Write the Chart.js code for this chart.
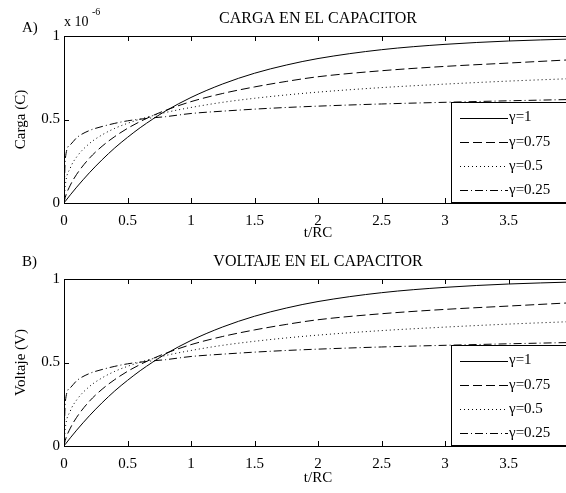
<!DOCTYPE html>
<html>
<head>
<meta charset="utf-8">
<script src="https://cdn.jsdelivr.net/npm/chart.js@4.4.1/dist/chart.umd.min.js"></script>
<style>
  html, body { margin:0; padding:0; background:#fff; overflow:hidden; width:566px; height:493px; }
  canvas { position:absolute; left:0; }
</style>
</head>
<body>
<canvas id="chartCarga" width="600" height="246" style="top:0"></canvas>
<canvas id="chartVoltaje" width="600" height="250" style="top:243px"></canvas>
<script>
// t/RC sample points
const tValues  = [0, 0.01, 0.05, 0.1, 0.2, 0.3, 0.4, 0.5, 0.6, 0.7, 0.8, 1, 1.25, 1.5, 1.75, 2, 2.5, 3, 3.5, 4];
// curves (same shape in both panels; charge in units of 1e-6 C, voltage in V)
const gamma1   = [0, 0.010, 0.049, 0.095, 0.181, 0.259, 0.330, 0.393, 0.451, 0.503, 0.551, 0.632, 0.713, 0.777, 0.826, 0.865, 0.918, 0.950, 0.970, 0.982];
const gamma075 = [0, 0.034, 0.107, 0.172, 0.268, 0.340, 0.398, 0.447, 0.488, 0.524, 0.555, 0.607, 0.656, 0.695, 0.728, 0.756, 0.792, 0.818, 0.838, 0.858];
const gamma05  = [0, 0.104, 0.210, 0.276, 0.356, 0.408, 0.447, 0.477, 0.502, 0.523, 0.542, 0.572, 0.603, 0.627, 0.647, 0.664, 0.691, 0.712, 0.730, 0.745];
const gamma025 = [0, 0.263, 0.349, 0.391, 0.434, 0.458, 0.477, 0.492, 0.502, 0.510, 0.517, 0.536, 0.550, 0.562, 0.572, 0.580, 0.593, 0.603, 0.612, 0.620];
const seriesLabels = ['γ=1', 'γ=0.75', 'γ=0.5', 'γ=0.25'];
const xTickStep = 0.5;
const yTickStep = 0.5;

const serif = '"Liberation Serif", "Times New Roman", serif';
const dashes = [[], [9, 4], [1, 3], [8, 3, 1, 3]];

// MATLAB-like decorations: inward ticks, top frame line, boxed legend, panel letter, title
const panelDeco = {
  id: 'panelDeco',
  afterDraw(chart, args, o) {
    const { ctx, chartArea: a, scales: { x, y } } = chart;
    ctx.save();
    ctx.strokeStyle = '#000';
    ctx.lineWidth = 1;
    ctx.beginPath();
    ctx.moveTo(a.left, a.top + 0.5); ctx.lineTo(a.right, a.top + 0.5);
    x.ticks.forEach(t => {
      const px = Math.round(x.getPixelForValue(t.value)) + 0.5;
      ctx.moveTo(px, a.bottom); ctx.lineTo(px, a.bottom - 5);
      ctx.moveTo(px, a.top); ctx.lineTo(px, a.top + 5);
    });
    y.ticks.forEach(t => {
      const py = Math.round(y.getPixelForValue(t.value)) + 0.5;
      ctx.moveTo(a.left, py); ctx.lineTo(a.left + 5, py);
    });
    ctx.stroke();

    // legend box
    const bx = a.left + 387, by = a.bottom - 101;
    ctx.fillStyle = '#fff';
    ctx.fillRect(bx, by, chart.width - bx, 100);
    ctx.strokeRect(bx + 0.5, by + 0.5, chart.width, 100);
    ctx.font = '15px ' + serif;
    ctx.fillStyle = '#000';
    ctx.textBaseline = 'middle';
    chart.data.datasets.forEach((ds, i) => {
      const ly = by + 15.5 + i * 24.3;
      ctx.setLineDash(ds.borderDash || []);
      ctx.beginPath();
      ctx.moveTo(bx + 9, Math.round(ly) + 0.5); ctx.lineTo(bx + 57, Math.round(ly) + 0.5);
      ctx.stroke();
      ctx.setLineDash([]);
      ctx.fillText(ds.label, bx + 58, ly);
    });

    // title and panel letter
    ctx.textAlign = 'center';
    ctx.font = '16px ' + serif;
    ctx.fillText(o.title, (a.left + a.right) / 2, 19);
    ctx.textAlign = 'left';
    ctx.font = '15px ' + serif;
    ctx.fillText(o.letter, 22, o.letterY);
    if (o.exponent) {
      ctx.font = '14px ' + serif;
      ctx.fillText('x 10', 64, 22);
      ctx.font = '10px ' + serif;
      ctx.fillText('-6', 92, 12);
    }
    ctx.restore();
  }
};

const plainNumber = v => String(v);

function makeChart(id, yLabel, deco, xHeight, xTitlePad) {
  const series = [gamma1, gamma075, gamma05, gamma025];
  return new Chart(document.getElementById(id), {
    type: 'line',
    data: {
      datasets: series.map((s, i) => ({
        label: seriesLabels[i],
        data: tValues.map((t, j) => ({ x: t, y: s[j] })),
        borderColor: '#000',
        borderWidth: 1,
        borderDash: dashes[i],
        pointRadius: 0,
        fill: false,
        cubicInterpolationMode: 'monotone'
      }))
    },
    options: {
      responsive: false,
      animation: false,
      devicePixelRatio: 1,
      layout: { padding: { top: 36, right: 28, left: 0, bottom: 0 } },
      plugins: { legend: { display: false }, tooltip: { enabled: false }, panelDeco: deco },
      scales: {
        x: {
          type: 'linear', min: 0, max: 4,
          grid: { display: false, drawTicks: false },
          border: { display: true, color: '#000', width: 1 },
          ticks: { stepSize: xTickStep, padding: 9, color: '#000', font: { family: serif, size: 15 }, callback: plainNumber },
          title: { display: true, text: 't/RC', color: '#000', font: { family: serif, size: 15 }, padding: { top: 0, bottom: xTitlePad } },
          afterFit: s => { s.height = xHeight; }
        },
        y: {
          min: 0, max: 1,
          grid: { display: false, drawTicks: false },
          border: { display: true, color: '#000', width: 1 },
          ticks: { stepSize: yTickStep, padding: 4, color: '#000', font: { family: serif, size: 15 }, callback: plainNumber },
          title: { display: true, text: yLabel, color: '#000', font: { family: serif, size: 15 }, padding: { top: 12, bottom: 0 } },
          afterFit: s => { s.width = 64; }
        }
      }
    },
    plugins: [panelDeco]
  });
}

makeChart('chartCarga', 'Carga (C)', { title: 'CARGA EN EL CAPACITOR', letter: 'A)', letterY: 28, exponent: true }, 43, 4);
makeChart('chartVoltaje', 'Voltaje (V)', { title: 'VOLTAJE EN EL CAPACITOR', letter: 'B)', letterY: 19, exponent: false }, 47, 6);
</script>
</body>
</html>
